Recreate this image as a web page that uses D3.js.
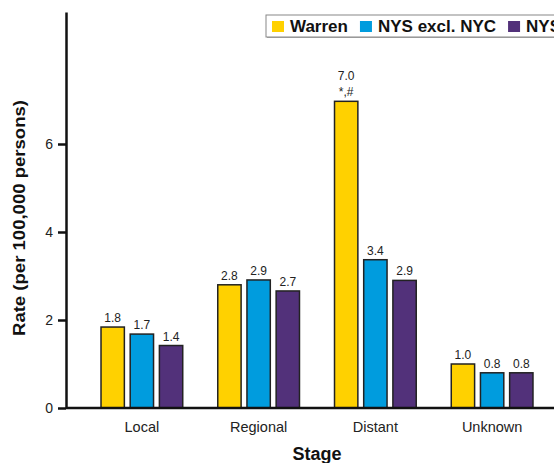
<!DOCTYPE html>
<html>
<head>
<meta charset="utf-8">
<script src="https://cdn.jsdelivr.net/npm/d3@7"></script>
<style>
  body { margin: 0; background: #fff; }
  svg { display: block; font-family: "Liberation Sans", Arial, sans-serif; }
</style>
</head>
<body>
<svg id="chart"></svg>
<script>
let width = 554;
let height = 463;

// data
let stages = ['Local', 'Regional', 'Distant', 'Unknown'];
let series = ['Warren', 'NYS excl. NYC', 'NYS'];
let seriesColors = ['#ffd100', '#009cde', '#52317a'];
let warren = [1.84, 2.80, 6.97, 1.00];
let nysExclNyc = [1.68, 2.91, 3.37, 0.80];
let nys = [1.42, 2.66, 2.90, 0.80];
let notes = ['', '', '*,#', ''];   // extra note above the Warren bar
let yTicks = [0, 2, 4, 6];

let values = [warren, nysExclNyc, nys];
let rows = [];
stages.forEach((s, i) => {
    series.forEach((k, j) => {
        rows.push({stage: s, series: k, value: values[j][i], note: j === 0 ? notes[i] : ''});
    });
});

let svg = d3.select('#chart').attr('width', width).attr('height', height);

let yScale = d3.scaleLinear().domain([0, 9]).range([408, 12]);
let xScale = d3.scaleBand()
    .domain(stages)
    .range([83.5, 550.5])
    .paddingInner(0.3)
    .paddingOuter(0.15);
let xSub = d3.scaleBand()
    .domain(series)
    .range([0, xScale.bandwidth()])
    .paddingInner(0.2);
let colorScale = d3.scaleOrdinal().domain(series).range(seriesColors);
let fmt = d3.format('.1f');

// bars
svg.append('g')
    .selectAll('rect')
    .data(rows)
    .join('rect')
    .attr('x', d => xScale(d.stage) + xSub(d.series))
    .attr('y', d => yScale(d.value))
    .attr('width', xSub.bandwidth())
    .attr('height', d => yScale(0) - yScale(d.value))
    .attr('fill', d => colorScale(d.series))
    .attr('stroke', '#222')
    .attr('stroke-width', 1.5);

// value labels
let labels = svg.append('g')
    .attr('font-size', 12)
    .attr('fill', '#222')
    .attr('text-anchor', 'middle');
labels.selectAll('text.val')
    .data(rows)
    .join('text')
    .attr('class', 'val')
    .attr('x', d => xScale(d.stage) + xSub(d.series) + xSub.bandwidth() / 2)
    .attr('y', d => yScale(d.value) - (d.note ? 21 : 5))
    .text(d => fmt(d.value));
labels.selectAll('text.note')
    .data(rows.filter(d => d.note))
    .join('text')
    .attr('class', 'note')
    .attr('x', d => xScale(d.stage) + xSub(d.series) + xSub.bandwidth() / 2)
    .attr('y', d => yScale(d.value) - 5)
    .text(d => d.note);

// y axis
let yAxis = svg.append('g')
    .attr('transform', 'translate(66,0)')
    .call(d3.axisLeft(yScale).tickValues(yTicks).tickSize(8).tickSizeOuter(0).tickPadding(5));
yAxis.select('.domain').attr('stroke', '#111').attr('stroke-width', 2.5);
yAxis.selectAll('.tick line').attr('stroke', '#111').attr('stroke-width', 2.5);
yAxis.selectAll('.tick text')
    .attr('font-size', 14)
    .attr('font-family', '"Liberation Sans", Arial, sans-serif')
    .attr('fill', '#222');

// x baseline
svg.append('line')
    .attr('x1', 66).attr('x2', width)
    .attr('y1', yScale(0)).attr('y2', yScale(0))
    .attr('stroke', '#111')
    .attr('stroke-width', 2.5);

// stage labels
svg.append('g')
    .selectAll('text')
    .data(stages)
    .join('text')
    .attr('x', s => xScale(s) + xScale.bandwidth() / 2)
    .attr('y', 432)
    .attr('text-anchor', 'middle')
    .attr('font-size', 14.5)
    .attr('fill', '#222')
    .text(s => s);

// axis titles
svg.append('text')
    .attr('transform', 'translate(25,218) rotate(-90)')
    .attr('text-anchor', 'middle')
    .attr('font-size', 17)
    .attr('font-weight', 'bold')
    .attr('fill', '#111')
    .attr('textLength', 236)
    .attr('lengthAdjust', 'spacingAndGlyphs')
    .text('Rate (per 100,000 persons)');
svg.append('text')
    .attr('x', 317)
    .attr('y', 460)
    .attr('text-anchor', 'middle')
    .attr('font-size', 18)
    .attr('font-weight', 'bold')
    .attr('fill', '#111')
    .text('Stage');

// legend
let legend = svg.append('g').attr('transform', 'translate(266,15)');
legend.append('rect')
    .attr('x', 1).attr('y', 1)
    .attr('width', 300).attr('height', 22)
    .attr('fill', '#aaa');
legend.append('rect')
    .attr('width', 300).attr('height', 22)
    .attr('fill', '#fff')
    .attr('stroke', '#888')
    .attr('stroke-width', 1);
let lx = 6;
series.forEach((k, j) => {
    legend.append('rect')
        .attr('x', lx).attr('y', 6)
        .attr('width', 12).attr('height', 11)
        .attr('fill', colorScale(k));
    let t = legend.append('text')
        .attr('x', lx + 18)
        .attr('y', 17)
        .attr('font-size', 17)
        .attr('font-weight', 'bold')
        .attr('fill', '#111')
        .text(k);
    lx += 18 + t.node().getComputedTextLength() + 12;
});
</script>
</body>
</html>
